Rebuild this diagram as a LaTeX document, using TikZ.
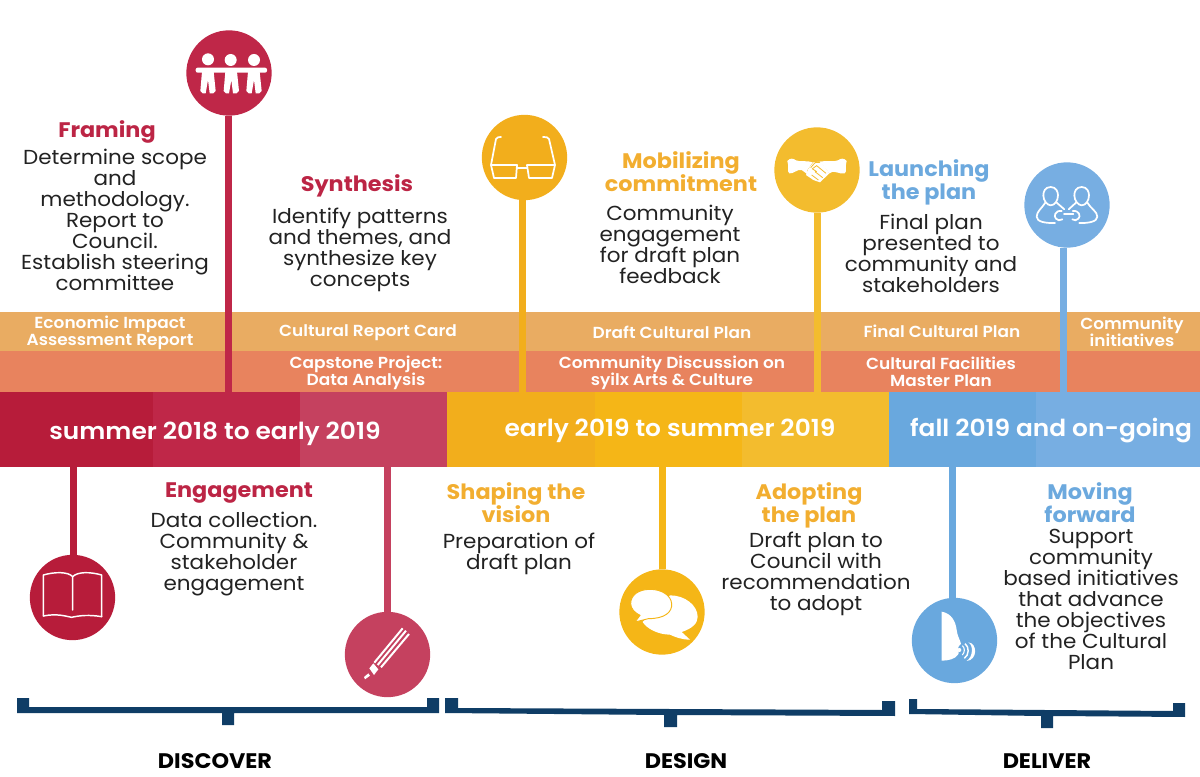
\documentclass[tikz,border=0pt]{standalone}
\usepackage{fontspec}
\setmainfont{Poppins}[FakeStretch=1.06]
\newfontfamily\semib{Poppins}[UprightFont=* SemiBold,FakeStretch=1.06]
\definecolor{redA}{HTML}{B71C3A}\definecolor{redB}{HTML}{BF2748}\definecolor{redC}{HTML}{C5415F}
\definecolor{yelA}{HTML}{F2AE1C}\definecolor{yelB}{HTML}{F5B617}\definecolor{yelC}{HTML}{F3BC2E}
\definecolor{bluA}{HTML}{69A8DE}\definecolor{bluB}{HTML}{77AEE2}
\definecolor{bandA}{HTML}{E9AC62}\definecolor{bandB}{HTML}{E8835E}
\definecolor{navy}{HTML}{0F3D66}\definecolor{ink}{HTML}{222222}
\definecolor{ttlR}{HTML}{BC2545}\definecolor{ttlY}{HTML}{F2AE30}\definecolor{ttlB}{HTML}{6CA9DE}
\tikzset{
 seg/.style={rectangle,inner sep=0pt,outer sep=0pt,minimum width=#1,minimum height=56.25pt,anchor=north west},
 bandtop/.style={fill=bandA,rectangle,inner sep=0pt,outer sep=0pt,minimum width=900pt,minimum height=29.25pt,anchor=north west},
 bandlow/.style={fill=bandB,rectangle,inner sep=0pt,outer sep=0pt,minimum width=900pt,minimum height=30.75pt,anchor=north west},
 bandtxt/.style={text=white,align=center,inner sep=0pt,font=\semib\fontsize{12}{12.8}\selectfont},
 timetxt/.style={text=white,align=center,inner sep=0pt,font=\semib\fontsize{17.6}{20}\selectfont},
 ttl/.style={align=center,inner sep=0pt,font=\bfseries\fontsize{15.8}{17.25}\selectfont},
 body/.style={text=ink,align=center,inner sep=0pt,font=\fontsize{15.2}{15.75}\selectfont},
 phase/.style={text=black,inner sep=0pt,font=\bfseries\fontsize{15.8}{16}\selectfont},
 icircle/.style={circle,inner sep=0pt,outer sep=0pt,minimum size=64pt,fill=#1},
 stem/.style={line width=5.25pt,draw=#1},
 ico/.style={shift={#1},x=0.25pt,y=-0.25pt},
 wl/.style={draw=white,line width=1.3pt,line cap=round,line join=round},
}
\begin{document}
\begin{tikzpicture}[x=0.75pt,y=-0.75pt]
\useasboundingbox (0,0) rectangle (1200,777);
% bands
\node[bandtop] (bt) at (0,312) {};
\node[bandlow] (bl) at (0,351) {};
% timeline
\node[seg=114.75pt,fill=redA] (s1) at (0,392) {};
\node[seg=110.25pt,fill=redB] (s2) at (153,392) {};
\node[seg=110.25pt,fill=redC] (s3) at (300,392) {};
\node[seg=111pt,fill=yelA] (s4) at (447,392) {};
\node[seg=110.25pt,fill=yelB] (s5) at (595,392) {};
\node[seg=110.25pt,fill=yelC] (s6) at (742,392) {};
\node[seg=110.25pt,fill=bluA] (s7) at (889,392) {};
\node[seg=123pt,fill=bluB] (s8) at (1036,392) {};
% circles
\node[icircle=redB] (cFraming) at (229,73) {};
\node[icircle=yelA] (cShaping) at (524.5,157.5) {};
\node[icircle=yelC] (cAdopting) at (817,170) {};
\node[icircle=bluB] (cForward) at (1067,205) {};
\node[icircle=redA] (cEngage) at (72.5,597.5) {};
\node[icircle=redC] (cSynth) at (387.5,654.5) {};
\node[icircle=yelB] (cMobil) at (662,612) {};
\node[icircle=bluA] (cLaunch) at (954.5,640.5) {};
% stems
\coordinate (a1) at (228.5,392);\coordinate (a2) at (522,392);\coordinate (a3) at (817.5,392);\coordinate (a4) at (1063.5,392);
\coordinate (b1) at (73,467);\coordinate (b2) at (387,467);\coordinate (b3) at (662,467);\coordinate (b4) at (952.5,467);
\draw[stem=redB] (a1 |- cFraming.south) -- (a1);
\draw[stem=yelA] (a2 |- cShaping.south) -- (a2);
\draw[stem=yelC] (a3 |- cAdopting.south) -- (a3);
\draw[stem=bluB] (a4 |- cForward.south) -- (a4);
\draw[stem=redA] (b1 |- cEngage.north) -- (b1);
\draw[stem=redC] (b2 |- cSynth.north) -- (b2);
\draw[stem=yelB] (b3 |- cMobil.north) -- (b3);
\draw[stem=bluA] (b4 |- cLaunch.north) -- (b4);
% band texts
\node[bandtxt] (t1) at (110,332.5) {Economic Impact\\Assessment Report};
\node[bandtxt] (t2) at (368,332.5) {Cultural Report Card};
\node[bandtxt] (t3) at (672,332.5) {Draft Cultural Plan};
\node[bandtxt] (t4) at (942,331) {Final Cultural Plan};
\node[bandtxt] (t5) at (1132,332) {Community\\initiatives};
\node[bandtxt] (t6) at (366,372.5) {Capstone Project:\\Data Analysis};
\node[bandtxt] (t7) at (672,372.5) {Community Discussion on\\syilx Arts \& Culture};
\node[bandtxt] (t8) at (941,372) {Cultural Facilities\\Master Plan};
% timeline texts
\node[timetxt] (l1) at (215,433.5) {summer 2018 to early 2019};
\node[timetxt] (l2) at (670,430.5) {early 2019 to summer 2019};
\node[timetxt] (l3) at (1051,430.5) {fall 2019 and on-going};
% titles and bodies
\node[ttl,text=ttlR] (h1) at (107,131.5) {Framing};
\node[body] (d1) at (115,220) {Determine scope\\and\\methodology.\\Report to\\Council.\\Establish steering\\committee};
\node[ttl,text=ttlR] (h2) at (357,185.5) {Synthesis};
\node[body] (d2) at (360,249.5) {Identify patterns\\and themes, and\\synthesize key\\concepts};
\node[ttl,text=ttlY] (h3) at (681,172) {Mobilizing\\commitment};
\node[body] (d3) at (670,244.5) {Community\\engagement\\for draft plan\\feedback};
\node[ttl,text=ttlB] (h4) at (929,182.5) {Launching\\the plan};
\node[body] (d4) at (931,253.5) {Final plan\\presented to\\community and\\stakeholders};
\node[ttl,text=ttlR] (h5) at (239,493.5) {Engagement};
\node[body] (d5) at (234,554) {Data collection.\\Community \&\\stakeholder\\engagement};
\node[ttl,text=ttlY] (h6) at (516,502.5) {Shaping the\\vision};
\node[body] (d6) at (519,554) {Preparation of\\draft plan};
\node[ttl,text=ttlY] (h7) at (809,505) {Adopting\\the plan};
\node[body] (d7) at (816,574) {Draft plan to\\Council with\\recommendation\\to adopt};
\node[ttl,text=ttlB] (h8) at (1090,502.5) {Moving\\forward};
\node[body] (d8) at (1091,599) {Support\\community\\based initiatives\\that advance\\the objectives\\of the Cultural\\Plan};
% brackets
\fill[navy] (17,698) -- (29,698) -- (29,707) -- (222,707) -- (427,707) -- (427,698) -- (439,698) -- (439,713) -- (234,713) -- (234,725) -- (222,725) -- (222,713) -- (17,713) -- cycle;
\fill[navy] (445,698) -- (458,698) -- (458,708) -- (882,710) -- (882,701) -- (895,701) -- (895,716) -- (677,715) -- (677,727) -- (664,727) -- (664,715) -- (445,713) -- cycle;
\fill[navy] (909,699) -- (917,699) -- (917,709) -- (1173,711) -- (1173,703) -- (1185,703) -- (1185,717) -- (1053,716) -- (1053,728) -- (1041,728) -- (1041,716) -- (909,714) -- cycle;
\node[phase] (p1) at (215,761) {DISCOVER};
\node[phase] (p2) at (686,761) {DESIGN};
\node[phase] (p3) at (1047,761) {DELIVER};
% people icon
\begin{scope}[ico={(183,30)}]
\fill[white] (75,88) circle (18) (143,90) circle (18) (213,90) circle (18);
\fill[white,rounded corners=1.5pt] (38,113) rectangle (252,128);
\foreach \c in {75,145,213}{\fill[white] (\c-18,125) -- (\c-23,183) -- (\c-16,190) -- (\c-7,190) -- (\c,150) -- (\c+5,190) -- (\c+16,190) -- (\c+23,183) -- (\c+17,125) -- cycle;}
\end{scope}
% glasses icon
\draw[wl] (491,165) -- (517,165) -- (516,178) -- (494,178) -- cycle (527,165) -- (555,165) -- (552,178) -- (529,178) -- cycle (517,168) -- (527,168)
 (491,165) -- (496,139) .. controls (497,137) and (499,137) .. (501,137)
 (555,165) -- (549,139) .. controls (548,137) and (546,137) .. (543,137);
% handshake icon
\begin{scope}[ico={(770,125)}]
\fill[white] (52,108) .. controls (60,98) and (70,100) .. (78,106) .. controls (90,112) and (110,105) .. (128,112) -- (112,135) -- (115,150) -- (95,135) .. controls (80,132) and (70,148) .. (58,145) .. controls (50,140) and (58,125) .. (52,108) -- cycle;
\fill[white] (230,108) .. controls (222,98) and (212,100) .. (204,106) .. controls (190,112) and (170,105) .. (150,110) -- (178,145) .. controls (190,132) and (210,150) .. (224,145) .. controls (232,140) and (224,125) .. (230,108) -- cycle;
\fill[white] (130,112) -- (152,110) -- (178,145) -- (150,172) -- (130,165) -- (108,150) -- (115,132) -- cycle;
\draw[yelC,line width=.6pt] (122,128) -- (135,113) (135,113) -- (150,112) (126,132) -- (140,122) -- (168,145) (135,140) -- (158,158) (125,150) -- (145,165) (128,132) -- (140,140);
\end{scope}
% connected people icon
\begin{scope}[ico={(1020,160)}]
\draw[wl] (92,81) .. controls (75,81) and (70,95) .. (70,106) .. controls (70,122) and (82,136) .. (92,136) .. controls (104,136) and (114,122) .. (114,106) .. controls (114,95) and (108,81) .. (92,81);
\draw[wl] (185,81) .. controls (168,81) and (163,95) .. (163,106) .. controls (163,122) and (175,136) .. (185,136) .. controls (197,136) and (207,122) .. (207,106) .. controls (207,95) and (201,81) .. (185,81);
\draw[wl] (76,128) .. controls (65,145) and (50,155) .. (50,170) .. controls (50,185) and (75,190) .. (105,189);
\draw[wl] (110,128) -- (133,148);
\draw[wl] (202,128) .. controls (212,145) and (232,155) .. (232,170) .. controls (232,185) and (205,190) .. (178,189);
\draw[wl] (168,128) -- (146,148);
\draw[wl] (125,153) .. controls (105,150) and (100,170) .. (108,176) .. controls (112,182) and (120,182) .. (127,178);
\draw[wl] (158,153) .. controls (178,150) and (183,170) .. (175,176) .. controls (170,182) and (163,182) .. (157,178);
\draw[wl] (132,163) -- (160,163);
\end{scope}
% book icon
\begin{scope}[ico={(0,540)}]
\draw[wl,line width=1.1pt] (130,228) -- (130,105) .. controls (165,95) and (205,95) .. (218,110) -- (218,210);
\draw[wl,line width=1.1pt] (218,110) .. controls (232,95) and (270,95) .. (305,105) -- (305,230);
\draw[wl,line width=1.1pt] (130,228) .. controls (170,220) and (195,228) .. (215,232) .. controls (240,226) and (270,224) .. (305,230);
\end{scope}
% pencil icon
\begin{scope}[ico={(340,610)}]
\draw[white,line width=1.5pt] (103,158) -- (188,55);
\draw[white,line width=1.5pt] (113,165) -- (198,62);
\draw[white,line width=1.5pt] (123,172) -- (207,72);
\fill[white] (88,175) -- (100,160) -- (115,178) -- (102,195) -- cycle;
\fill[white] (75,208) -- (72,201) -- (85,190) -- (90,197) -- cycle;
\end{scope}
% speech bubbles icon
\begin{scope}[ico={(615,567)}]
\fill[white] (165,85) .. controls (210,85) and (248,115) .. (248,150) .. controls (248,170) and (230,185) .. (200,195) -- (225,218) .. controls (200,218) and (180,210) .. (165,203) .. controls (130,203) and (95,185) .. (83,165) -- cycle;
\draw[fill=white,draw=yelB,line width=.7pt] (100,155) .. controls (150,155) and (172,135) .. (170,110) .. controls (168,85) and (140,67) .. (105,67) .. controls (70,67) and (47,85) .. (47,110) .. controls (47,125) and (60,138) .. (75,145) -- (60,165) -- cycle;
\end{scope}
% speaking face icon
\begin{scope}[ico={(905,595)}]
\fill[white] (110,50) .. controls (140,55) and (152,80) .. (155,105) .. controls (157,125) and (168,140) .. (168,147) .. controls (165,152) and (160,152) .. (160,156) .. controls (158,165) and (165,175) .. (158,180) .. controls (150,192) and (130,197) .. (110,197) -- cycle;
\fill[white] (163,165) circle (6);
\draw[white,line width=.8pt] (172,152) .. controls (180,158) and (180,172) .. (172,180);
\draw[white,line width=1.1pt] (180,146) .. controls (193,155) and (193,180) .. (178,190);
\fill[white] (190,142) .. controls (205,150) and (205,185) .. (185,198) .. controls (218,195) and (218,145) .. (190,142) -- cycle;
\end{scope}
\end{tikzpicture}
\end{document}
